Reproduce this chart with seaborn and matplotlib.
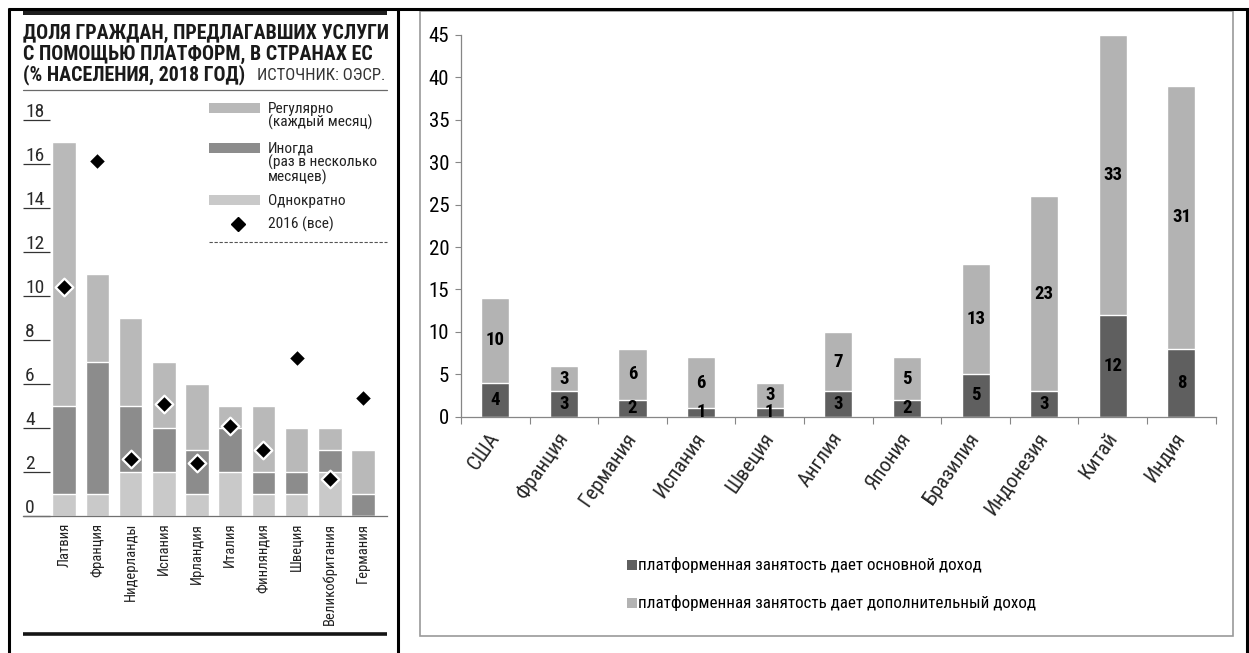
import numpy as np
import matplotlib
matplotlib.use("Agg")
import matplotlib.pyplot as plt
import matplotlib.transforms as mtransforms
from matplotlib import font_manager as fm
from matplotlib.patches import Rectangle
import seaborn as sns

# ---------------- EU panel: share of citizens offering services via platforms (% of population, 2018)
eu_countries = ["Латвия", "Франция", "Нидерланды", "Испания", "Ирландия",
                "Италия", "Финляндия", "Швеция", "Великобритания", "Германия"]
eu_once = [1, 1, 2, 2, 1, 2, 1, 1, 2, 0]
eu_sometimes = [4, 6, 3, 2, 2, 2, 1, 1, 1, 1]
eu_regular = [12, 4, 4, 3, 3, 1, 3, 2, 1, 2]
eu_2016 = [10.4, 16.1, 2.6, 5.1, 2.4, 4.1, 3.0, 7.15, 1.65, 5.35]
eu_yticks = [0, 2, 4, 6, 8, 10, 12, 14, 16, 18]

# ---------------- World panel: platform employment as main / additional income
world_countries = ["США", "Франция", "Германия", "Испания", "Швеция", "Англия",
                   "Япония", "Бразилия", "Индонезия", "Китай", "Индия"]
main_income = [4, 3, 2, 1, 1, 3, 2, 5, 3, 12, 8]
extra_income = [10, 3, 6, 6, 3, 7, 5, 13, 23, 33, 31]
world_yticks = [0, 5, 10, 15, 20, 25, 30, 35, 40, 45]

sns.set_style("white")

# pick the narrowest sans family that is installed
entries = fm.fontManager.ttflist
names = {f.name for f in entries}
if "Liberation Sans Narrow" in names:
    NARROW, STRETCH = "Liberation Sans Narrow", "normal"
elif "Roboto Condensed" in names:
    NARROW, STRETCH = "Roboto Condensed", "normal"
elif any(f.name == "Noto Sans" and f.stretch == "condensed" for f in entries):
    NARROW, STRETCH = "Noto Sans", "condensed"
else:
    NARROW, STRETCH = "DejaVu Sans", "condensed"
plt.rcParams["font.family"] = [NARROW, "DejaVu Sans"]
plt.rcParams["font.stretch"] = STRETCH

W, H = 1249, 653
fig = plt.figure(figsize=(W / 100, H / 100), dpi=100)


def box(x0, y0, x1, y1):
    """Axes rectangle from pixel coordinates measured from the top-left corner."""
    return [x0 / W, 1 - y1 / H, (x1 - x0) / W, (y1 - y0) / H]


def font(size, weight="normal"):
    return dict(family=[NARROW, "DejaVu Sans"], fontsize=size,
                fontweight=weight, fontstretch=STRETCH)


# ---------------- page furniture (frame, headings, legends)
deco = fig.add_axes([0, 0, 1, 1], zorder=0)
deco.set_xlim(0, W)
deco.set_ylim(H, 0)
deco.axis("off")

frame = dict(color="black", lw=2.2, solid_capstyle="butt")
deco.plot([8, W], [8.5, 8.5], **frame)
deco.plot([9, 9], [7.5, H], **frame)
deco.plot([398.5, 398.5], [7.5, H], **frame)
deco.plot([1247, 1247], [7.5, H], **frame)

deco.add_patch(Rectangle((23, 9.5), 364, 5.5, color="#1e1e1e", lw=0))
deco.plot([23, 387], [90, 90], color="#6a6a6a", lw=0.9)
deco.plot([23, 387], [633.5, 633.5], color="#151515", lw=2.6, solid_capstyle="butt")

title_lines = ["ДОЛЯ ГРАЖДАН, ПРЕДЛАГАВШИХ УСЛУГИ",
               "С ПОМОЩЬЮ ПЛАТФОРМ, В СТРАНАХ ЕС",
               "(% НАСЕЛЕНИЯ, 2018 ГОД)"]
title_texts = [deco.text(23, base, line, ha="left", va="baseline", color="#1a1a1a",
                         **font(12.2, "bold"))
               for line, base in zip(title_lines, [38.5, 59.5, 80])]
source_text = deco.text(385, 80, "ИСТОЧНИК: ОЭСР.", ha="right", va="baseline",
                        color="#333333", **font(8.6))

c_regular, c_sometimes, c_once = "#b9b9b9", "#8c8c8c", "#c9c9c9"
legend_rows = [("Регулярно\n(каждый месяц)", c_regular, 103),
               ("Иногда\n(раз в несколько\nмесяцев)", c_sometimes, 143),
               ("Однократно", c_once, 195)]
eu_legend_texts = []
for label, col, top in legend_rows:
    deco.add_patch(Rectangle((209, top), 51, 10, color=col, lw=0))
    eu_legend_texts.append(deco.text(268, top - 1.5, label, ha="left", va="top",
                                     color="#222222", linespacing=0.95, **font(10.5)))
deco.plot([238], [224], marker="D", ms=7, color="black", ls="none")
eu_legend_texts.append(deco.text(268, 224, "2016 (все)", ha="left", va="center",
                                 color="#222222", **font(10.5)))
deco.plot([209, 387], [242, 242], color="#555555", lw=0.8, ls=(0, (3, 1.5)))

# chart-area frame of the world panel
deco.add_patch(Rectangle((420, 11), 813, 625, fill=False, ec="#9a9a9a", lw=1.2))

c_dark, c_light = "#5f5f5f", "#b3b3b3"
world_legend = [("платформенная занятость дает основной доход", c_dark, 565),
                ("платформенная занятость дает дополнительный доход", c_light, 603)]
world_legend_texts = []
for label, col, yc in world_legend:
    deco.add_patch(Rectangle((627, yc - 5), 10, 10, color=col, lw=0))
    world_legend_texts.append(deco.text(638, yc, label, ha="left", va="center",
                                        color="black", **font(12.5)))

# ---------------- EU stacked bars
axL = fig.add_axes(box(23, 97.7, 387, 515.7), zorder=1)
axL.set_facecolor("none")
eu_mid = np.add(eu_once, eu_sometimes)
eu_total = eu_mid + np.array(eu_regular)
for heights, col in [(eu_total, c_regular), (eu_mid, c_sometimes), (eu_once, c_once)]:
    sns.barplot(x=eu_countries, y=heights, color=col, width=0.71, saturation=1,
                errorbar=None, ax=axL)
sns.stripplot(x=eu_countries, y=eu_2016, jitter=False, marker="D", size=9,
              color="black", edgecolor="white", linewidth=1.6, ax=axL, zorder=5)
axL.set_xlim(-1.24, 9.72)
axL.set_ylim(0, 19)
for s in ["top", "right", "left"]:
    axL.spines[s].set_visible(False)
axL.spines["bottom"].set_color("#707070")
axL.spines["bottom"].set_linewidth(0.9)
axL.set_yticks(eu_yticks)
axL.tick_params(axis="y", left=True, direction="in", length=19.4, width=0.9,
                color="#333333", labelleft=False)
lab_tr = mtransforms.offset_copy(axL.get_yaxis_transform(), fig=fig, y=2.5, units="dots")
for v in eu_yticks:
    axL.text(0.006, v, str(v), transform=lab_tr, ha="left", va="baseline",
             color="#2a2a2a", **font(14))
axL.set_xticks(range(len(eu_countries)))
axL.set_xticklabels(eu_countries, rotation=90, va="top", ha="center", color="#222222",
                    **font(10.5))
axL.tick_params(axis="x", length=0, pad=5)
axL.set_xlabel("")
axL.set_ylabel("")

# ---------------- world stacked bars
axR = fig.add_axes(box(461, 35, 1215.7, 416.7), zorder=1)
axR.set_facecolor("none")
world_total = np.add(main_income, extra_income)
sns.barplot(x=world_countries, y=world_total, color=c_light, width=0.41, saturation=1,
            errorbar=None, ax=axR)
sns.barplot(x=world_countries, y=main_income, color=c_dark, width=0.41, saturation=1,
            errorbar=None, ax=axR)
for i, (m, e) in enumerate(zip(main_income, extra_income)):
    axR.text(i, m / 2, str(m), ha="center", va="center", color="black", **font(13.5, "bold"))
    axR.text(i, m + e / 2, str(e), ha="center", va="center", color="black", **font(13.5, "bold"))
axR.set_xlim(-0.5, len(world_countries) - 0.5)
axR.set_ylim(0, 45)
for s in ["top", "right"]:
    axR.spines[s].set_visible(False)
for s in ["left", "bottom"]:
    axR.spines[s].set_color("#868686")
    axR.spines[s].set_linewidth(0.9)
axR.set_yticks(world_yticks)
axR.set_yticklabels([str(v) for v in world_yticks], **font(15))
axR.tick_params(axis="y", left=True, direction="out", length=4.5, width=0.8,
                color="#868686", pad=4, labelcolor="black")
axR.set_xticks(range(len(world_countries)))
axR.set_xticklabels(world_countries, rotation=55, ha="right", va="top",
                    rotation_mode="default", **font(15))
axR.set_xticks(np.arange(-0.5, len(world_countries)), minor=True)
axR.tick_params(axis="x", which="major", bottom=False, length=0, pad=9)
axR.tick_params(axis="x", which="minor", bottom=True, direction="out", length=5,
                width=0.8, color="#868686")
axR.set_xlabel("")
axR.set_ylabel("")
shift = mtransforms.ScaledTranslation(8 / 100, 0, fig.dpi_scale_trans)
for lab in axR.get_xticklabels():
    lab.set_transform(lab.get_transform() + shift)

# ---------------- scale text so each block spans the width it occupies on the page
fig.canvas.draw()
renderer = fig.canvas.get_renderer()


def fit(texts, target, dim="width"):
    ext = texts[0].get_window_extent(renderer)
    size = getattr(ext, dim)
    scale = target / size
    for t in texts:
        t.set_fontsize(t.get_fontsize() * scale)


fit(title_texts, 364)
fit([source_text], 128)
fit([eu_legend_texts[1]] + [t for i, t in enumerate(eu_legend_texts) if i != 1], 110)
fit([world_legend_texts[0], world_legend_texts[1]], 345)
eu_ticks = axL.get_xticklabels()
fit([eu_ticks[8]] + [t for i, t in enumerate(eu_ticks) if i != 8], 102, "height")

fig.savefig("out.png", dpi=100)
